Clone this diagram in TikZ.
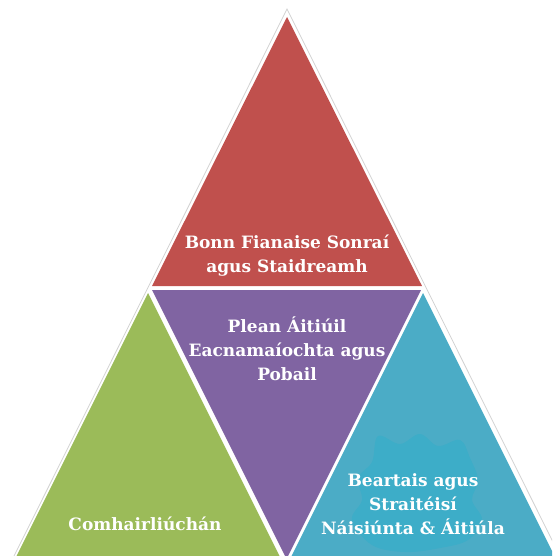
\documentclass[tikz,border=0pt]{standalone}
\usepackage{fontspec}
\newfontfamily\lblfont{DejaVu Serif}
\definecolor{pred}{HTML}{C0504D}
\definecolor{pgreen}{HTML}{9BBB59}
\definecolor{ppurple}{HTML}{8064A2}
\definecolor{pblue}{HTML}{4BACC6}
\definecolor{pblob}{HTML}{3DADC8}
\begin{document}
\begin{tikzpicture}[x=1pt,y=-1pt,
  lbl/.style={text=white, font=\lblfont\bfseries\fontsize{17}{24}\selectfont, align=center, inner sep=0pt},
  outline/.style={draw=gray!35, line width=0.8pt}]
\useasboundingbox (0,0) rectangle (552,556);
\begin{scope}
\clip (0,0) rectangle (552,556);
\draw[outline] (11,562) -- (287,9) -- (563,562);
\fill[pred] (287,17) -- (152,286) -- (422,286) -- cycle;
\fill[pgreen] (148,293) -- (13,563) -- (283,563) -- cycle;
\fill[ppurple] (152,290) -- (421,290) -- (286.5,559) -- cycle;
\fill[pblue] (423,293) -- (290,559) -- (556,559) -- cycle;
\fill[pblob] plot[smooth cycle, tension=0.6] coordinates {(378,436) (400,444) (420,434) (438,446) (460,440) (470,458) (478,480) (472,500) (482,520) (468,540) (440,548) (405,552) (372,545) (352,520) (362,500) (358,478) (372,462)};
\end{scope}
\node[lbl] (red) at (287,256) {Bonn Fianaise Sonraí\\agus Staidreamh};
\node[lbl] (purple) at (287,349) {Plean Áitiúil\\Eacnamaíochta agus\\Pobail};
\node[lbl] (blue) at (413,504) {Beartais agus\\Straitéisí\\Náisiúnta \& Áitiúla};
\node[lbl] (green) at (145,524) {Comhairliúchán};
\end{tikzpicture}
\end{document}
